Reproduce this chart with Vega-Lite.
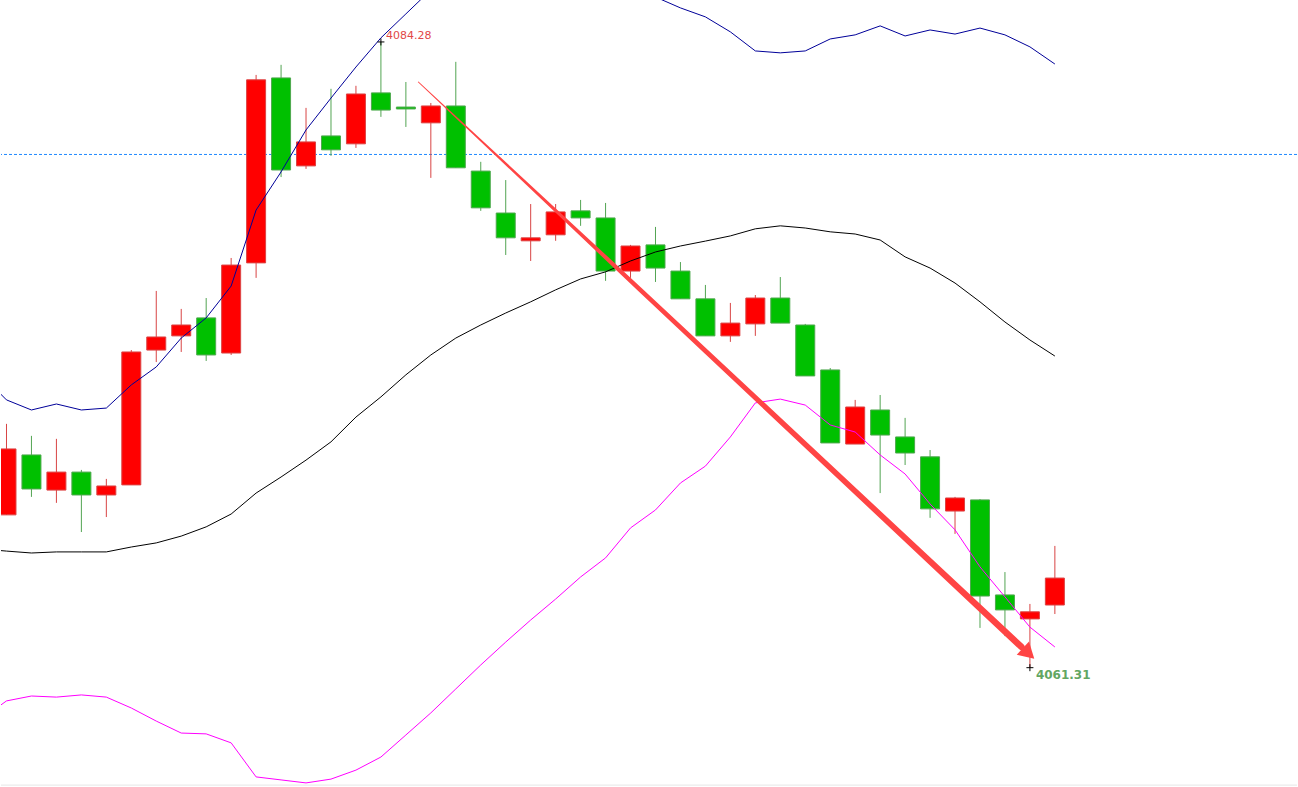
{
  "$schema": "https://vega.github.io/schema/vega-lite/v6.json",
  "width": 1298,
  "height": 787,
  "autosize": {"type": "fit", "contains": "padding"},
  "padding": 0,
  "background": "white",
  "config": {"view": {"stroke": null}},
  "datasets": {
    "candles": [
      {"i": 1, "open": 4066.92, "close": 4069.34, "high": 4070.26, "low": 4066.92},
      {"i": 2, "open": 4069.12, "close": 4067.87, "high": 4069.82, "low": 4067.58},
      {"i": 3, "open": 4067.83, "close": 4068.49, "high": 4069.71, "low": 4067.36},
      {"i": 4, "open": 4068.49, "close": 4067.65, "high": 4068.57, "low": 4066.29},
      {"i": 5, "open": 4067.65, "close": 4067.98, "high": 4068.24, "low": 4066.84},
      {"i": 6, "open": 4068.02, "close": 4072.90, "high": 4072.97, "low": 4068.02},
      {"i": 7, "open": 4072.97, "close": 4073.45, "high": 4075.14, "low": 4072.53},
      {"i": 8, "open": 4073.49, "close": 4073.89, "high": 4074.48, "low": 4072.90},
      {"i": 9, "open": 4074.15, "close": 4072.79, "high": 4074.88, "low": 4072.57},
      {"i": 10, "open": 4072.86, "close": 4076.09, "high": 4076.35, "low": 4072.79},
      {"i": 11, "open": 4076.17, "close": 4082.89, "high": 4083.07, "low": 4075.62},
      {"i": 12, "open": 4082.96, "close": 4079.58, "high": 4083.44, "low": 4079.32},
      {"i": 13, "open": 4079.73, "close": 4080.61, "high": 4081.86, "low": 4079.62},
      {"i": 14, "open": 4080.83, "close": 4080.32, "high": 4082.56, "low": 4080.10},
      {"i": 15, "open": 4080.54, "close": 4082.37, "high": 4082.67, "low": 4080.39},
      {"i": 16, "open": 4082.41, "close": 4081.78, "high": 4084.28, "low": 4081.53},
      {"i": 17, "open": 4081.89, "close": 4081.82, "high": 4082.81, "low": 4081.16},
      {"i": 18, "open": 4081.31, "close": 4081.93, "high": 4082.04, "low": 4079.29},
      {"i": 19, "open": 4081.93, "close": 4079.66, "high": 4083.55, "low": 4079.66},
      {"i": 20, "open": 4079.54, "close": 4078.19, "high": 4079.88, "low": 4078.08},
      {"i": 21, "open": 4078.00, "close": 4077.09, "high": 4079.21, "low": 4076.46},
      {"i": 22, "open": 4076.98, "close": 4077.09, "high": 4078.33, "low": 4076.24},
      {"i": 23, "open": 4077.20, "close": 4078.04, "high": 4078.33, "low": 4076.98},
      {"i": 24, "open": 4078.08, "close": 4077.82, "high": 4078.48, "low": 4077.53},
      {"i": 25, "open": 4077.82, "close": 4075.87, "high": 4078.37, "low": 4075.51},
      {"i": 26, "open": 4075.87, "close": 4076.79, "high": 4076.83, "low": 4075.62},
      {"i": 27, "open": 4076.83, "close": 4075.98, "high": 4077.49, "low": 4075.47},
      {"i": 28, "open": 4075.87, "close": 4074.85, "high": 4076.20, "low": 4074.85},
      {"i": 29, "open": 4074.85, "close": 4073.49, "high": 4075.36, "low": 4073.49},
      {"i": 30, "open": 4073.49, "close": 4073.96, "high": 4074.70, "low": 4073.27},
      {"i": 31, "open": 4073.93, "close": 4074.88, "high": 4074.99, "low": 4073.49},
      {"i": 32, "open": 4074.88, "close": 4073.96, "high": 4075.65, "low": 4073.96},
      {"i": 33, "open": 4073.89, "close": 4072.02, "high": 4073.93, "low": 4072.02},
      {"i": 34, "open": 4072.24, "close": 4069.56, "high": 4072.31, "low": 4069.56},
      {"i": 35, "open": 4069.52, "close": 4070.88, "high": 4071.14, "low": 4069.52},
      {"i": 36, "open": 4070.77, "close": 4069.85, "high": 4071.32, "low": 4067.72},
      {"i": 37, "open": 4069.78, "close": 4069.19, "high": 4070.48, "low": 4068.75},
      {"i": 38, "open": 4069.05, "close": 4067.14, "high": 4069.30, "low": 4066.81},
      {"i": 39, "open": 4067.06, "close": 4067.54, "high": 4067.58, "low": 4066.22},
      {"i": 40, "open": 4067.47, "close": 4063.94, "high": 4067.50, "low": 4062.77},
      {"i": 41, "open": 4063.98, "close": 4063.43, "high": 4064.82, "low": 4062.47},
      {"i": 42, "open": 4063.10, "close": 4063.36, "high": 4063.65, "low": 4061.31},
      {"i": 43, "open": 4063.61, "close": 4064.60, "high": 4065.78, "low": 4063.28}
    ],
    "bands": [
      {"i": 0, "upper": 4072.06, "mid": 4065.67, "lower": 4059.43},
      {"i": 1, "upper": 4071.14, "mid": 4065.59, "lower": 4060.09},
      {"i": 2, "upper": 4070.77, "mid": 4065.52, "lower": 4060.27},
      {"i": 3, "upper": 4070.99, "mid": 4065.56, "lower": 4060.23},
      {"i": 4, "upper": 4070.77, "mid": 4065.56, "lower": 4060.31},
      {"i": 5, "upper": 4070.84, "mid": 4065.56, "lower": 4060.23},
      {"i": 6, "upper": 4071.69, "mid": 4065.74, "lower": 4059.83},
      {"i": 7, "upper": 4072.35, "mid": 4065.89, "lower": 4059.35},
      {"i": 8, "upper": 4073.41, "mid": 4066.14, "lower": 4058.91},
      {"i": 9, "upper": 4074.15, "mid": 4066.48, "lower": 4058.88},
      {"i": 10, "upper": 4075.32, "mid": 4066.95, "lower": 4058.55},
      {"i": 11, "upper": 4078.11, "mid": 4067.72, "lower": 4057.30},
      {"i": 12, "upper": 4079.51, "mid": 4068.31, "lower": 4057.19},
      {"i": 13, "upper": 4081.05, "mid": 4068.93, "lower": 4057.08},
      {"i": 14, "upper": 4082.22, "mid": 4069.60, "lower": 4057.22},
      {"i": 15, "upper": 4083.36, "mid": 4070.51, "lower": 4057.55},
      {"i": 16, "upper": 4084.43, "mid": 4071.25, "lower": 4058.03},
      {"i": 17, "upper": 4085.31, "mid": 4072.06, "lower": 4058.84},
      {"i": 18, "upper": 4086.19, "mid": 4072.79, "lower": 4059.65},
      {"i": 19, "upper": 4086.74, "mid": 4073.41, "lower": 4060.53},
      {"i": 20, "upper": 4087.11, "mid": 4073.89, "lower": 4061.41},
      {"i": 21, "upper": 4087.29, "mid": 4074.33, "lower": 4062.25},
      {"i": 22, "upper": 4087.29, "mid": 4074.74, "lower": 4063.06},
      {"i": 23, "upper": 4087.14, "mid": 4075.18, "lower": 4063.83},
      {"i": 24, "upper": 4086.92, "mid": 4075.58, "lower": 4064.64},
      {"i": 25, "upper": 4086.63, "mid": 4075.84, "lower": 4065.34},
      {"i": 26, "upper": 4086.26, "mid": 4076.24, "lower": 4066.44},
      {"i": 27, "upper": 4085.93, "mid": 4076.57, "lower": 4067.10},
      {"i": 28, "upper": 4085.53, "mid": 4076.79, "lower": 4068.09},
      {"i": 29, "upper": 4085.20, "mid": 4076.97, "lower": 4068.71},
      {"i": 30, "upper": 4084.65, "mid": 4077.16, "lower": 4069.78},
      {"i": 31, "upper": 4083.95, "mid": 4077.42, "lower": 4071.03},
      {"i": 32, "upper": 4083.88, "mid": 4077.53, "lower": 4071.17},
      {"i": 33, "upper": 4083.95, "mid": 4077.45, "lower": 4070.95},
      {"i": 34, "upper": 4084.39, "mid": 4077.31, "lower": 4070.22},
      {"i": 35, "upper": 4084.54, "mid": 4077.23, "lower": 4069.96},
      {"i": 36, "upper": 4084.87, "mid": 4077.01, "lower": 4069.12},
      {"i": 37, "upper": 4084.50, "mid": 4076.39, "lower": 4068.42},
      {"i": 38, "upper": 4084.72, "mid": 4075.98, "lower": 4067.32},
      {"i": 39, "upper": 4084.57, "mid": 4075.43, "lower": 4066.37},
      {"i": 40, "upper": 4084.79, "mid": 4074.74, "lower": 4065.01},
      {"i": 41, "upper": 4084.54, "mid": 4074.00, "lower": 4063.91},
      {"i": 42, "upper": 4084.10, "mid": 4073.34, "lower": 4062.80},
      {"i": 43, "upper": 4083.47, "mid": 4072.75, "lower": 4062.07}
    ],
    "levels": [
      {"price": 4057.0, "kind": "frame"},
      {"price": 4080.15, "kind": "dash"}
    ],
    "arrow": [
      {"i": 17.50, "price": 4082.81, "w": 1},
      {"i": 20.38, "price": 4080.34, "w": 2.2},
      {"i": 26.38, "price": 4075.19, "w": 4.5},
      {"i": 41.66, "price": 4062.07, "w": 6.5}
    ],
    "arrowhead": [
      {"i": 41.87, "price": 4061.90}
    ],
    "marks": [
      {"i": 16, "price": 4084.28, "label": "4084.28", "kind": "high"},
      {"i": 42, "price": 4061.31, "label": "4061.31", "kind": "low"}
    ]
  },
  "encoding": {
    "x": {"field": "i", "type": "quantitative", "axis": null,
          "scale": {"domain": [0.78, 52.7], "nice": false, "zero": false, "padding": 0}}
  },
  "layer": [
    {
      "data": {"name": "levels"},
      "transform": [{"filter": "datum.kind == 'frame'"}],
      "mark": {"type": "rule", "color": "#e6e6e6", "strokeWidth": 1},
      "encoding": {
        "x": null,
        "y": {"field": "price", "type": "quantitative", "axis": null,
              "scale": {"domain": [4056.93, 4085.82], "nice": false, "zero": false, "padding": 0}}
      }
    },
    {
      "data": {"name": "levels"},
      "transform": [{"filter": "datum.kind == 'dash'"}],
      "mark": {"type": "rule", "color": "#1e88ff", "strokeWidth": 1, "strokeDash": [3, 2]},
      "encoding": {
        "x": null,
        "y": {"field": "price", "type": "quantitative"}
      }
    },
    {
      "data": {"name": "candles"},
      "mark": {"type": "rule", "strokeWidth": 1, "clip": true},
      "encoding": {
        "y": {"field": "low", "type": "quantitative"},
        "y2": {"field": "high"},
        "color": {
          "condition": {"test": "datum.close > datum.open", "value": "#d84444"},
          "value": "#52a452"
        }
      }
    },
    {
      "data": {"name": "candles"},
      "mark": {"type": "bar", "size": 19, "strokeWidth": 1, "clip": true},
      "encoding": {
        "y": {"field": "open", "type": "quantitative"},
        "y2": {"field": "close"},
        "fill": {
          "condition": {"test": "datum.close > datum.open", "value": "#ff0000"},
          "value": "#00c000"
        },
        "stroke": {
          "condition": {"test": "datum.close > datum.open", "value": "#dc4444"},
          "value": "#4ea84e"
        }
      }
    },
    {
      "data": {"name": "bands"},
      "mark": {"type": "line", "color": "#000099", "strokeWidth": 1, "clip": true},
      "encoding": {"y": {"field": "upper", "type": "quantitative"}}
    },
    {
      "data": {"name": "bands"},
      "mark": {"type": "line", "color": "#000000", "strokeWidth": 1, "clip": true},
      "encoding": {"y": {"field": "mid", "type": "quantitative"}}
    },
    {
      "data": {"name": "bands"},
      "mark": {"type": "line", "color": "#ff00ff", "strokeWidth": 1, "clip": true},
      "encoding": {"y": {"field": "lower", "type": "quantitative"}}
    },
    {
      "data": {"name": "arrow"},
      "mark": {"type": "trail", "color": "#ff4444"},
      "encoding": {
        "y": {"field": "price", "type": "quantitative"},
        "size": {"field": "w", "type": "quantitative", "scale": null, "legend": null}
      }
    },
    {
      "data": {"name": "arrowhead"},
      "mark": {"type": "point", "shape": "triangle", "size": 324, "angle": 133,
               "filled": true, "color": "#ff4444", "opacity": 1},
      "encoding": {"y": {"field": "price", "type": "quantitative"}}
    },
    {
      "data": {"name": "marks"},
      "mark": {"type": "point", "shape": "M-1,0H1M0,-1V1", "size": 49,
               "filled": false, "stroke": "#000000", "strokeWidth": 1, "opacity": 1},
      "encoding": {"y": {"field": "price", "type": "quantitative"}}
    },
    {
      "data": {"name": "marks"},
      "transform": [{"filter": "datum.kind == 'high'"}],
      "mark": {"type": "text", "align": "left", "baseline": "alphabetic", "dx": 5, "dy": -3,
               "font": "DejaVu Sans", "fontSize": 11, "fontWeight": 500, "color": "#e24848"},
      "encoding": {
        "y": {"field": "price", "type": "quantitative"},
        "text": {"field": "label"}
      }
    },
    {
      "data": {"name": "marks"},
      "transform": [{"filter": "datum.kind == 'low'"}],
      "mark": {"type": "text", "align": "left", "baseline": "alphabetic", "dx": 6, "dy": 11,
               "font": "DejaVu Sans", "fontSize": 12, "fontWeight": "bold", "color": "#62a662"},
      "encoding": {
        "y": {"field": "price", "type": "quantitative"},
        "text": {"field": "label"}
      }
    }
  ]
}
